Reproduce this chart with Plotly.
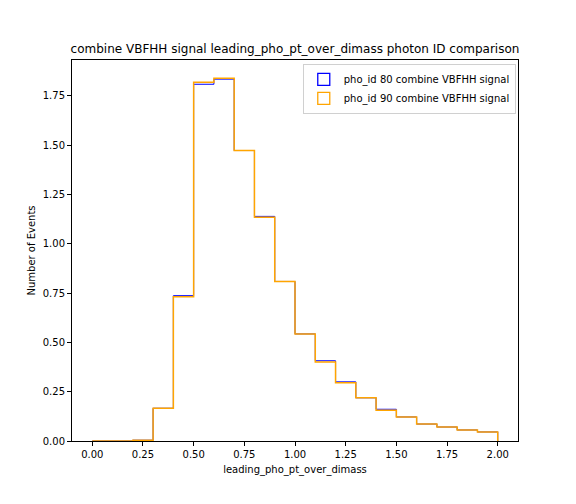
"""Step histogram: photon ID comparison for combine VBFHH signal"""

import plotly.graph_objects as go

bin_edges = [round(0.1 * i, 1) for i in range(21)]

pho_id_80 = [0.0, 0.0, 0.004, 0.166, 0.737, 1.809, 1.835, 1.473, 1.139, 0.809,
             0.543, 0.407, 0.300, 0.219, 0.161, 0.122, 0.086, 0.071, 0.056, 0.046]
pho_id_90 = [0.0, 0.0, 0.004, 0.166, 0.732, 1.819, 1.840, 1.473, 1.134, 0.809,
             0.543, 0.400, 0.295, 0.219, 0.156, 0.122, 0.086, 0.071, 0.056, 0.046]

series = [
    ("pho_id 80 combine VBFHH signal", pho_id_80, "blue", 1.0),
    ("pho_id 90 combine VBFHH signal", pho_id_90, "orange", 1.5),
]


def step_outline(edges, counts):
    """Outline of a matplotlib-style 'step' histogram."""
    xs, ys = [edges[0]], [0.0]
    for i, c in enumerate(counts):
        xs += [edges[i], edges[i + 1]]
        ys += [c, c]
    xs.append(edges[-1])
    ys.append(0.0)
    return xs, ys


fig = go.Figure()
for name, counts, color, width in series:
    xs, ys = step_outline(bin_edges, counts)
    fig.add_trace(
        go.Scatter(
            x=xs,
            y=ys,
            mode="lines",
            name=name,
            showlegend=False,
            line=dict(color=color, width=width),
        )
    )
    # hollow patch for the legend, like matplotlib's step histogram
    fig.add_trace(
        go.Bar(
            x=[None],
            y=[None],
            name=name,
            marker=dict(color="rgba(0,0,0,0)", line=dict(color=color, width=1.3)),
        )
    )

axis_style = dict(
    showline=True,
    linecolor="black",
    linewidth=1,
    mirror=True,
    ticks="outside",
    ticklen=4,
    tickcolor="black",
    showgrid=False,
    zeroline=False,
    tickfont=dict(size=10, color="black"),
    tickformat=".2f",
)

# the page body adds an 8px offset, so margins are shifted by that
fig.update_layout(
    width=576,
    height=504,
    margin=dict(l=64, r=66, t=52, b=71),
    paper_bgcolor="white",
    plot_bgcolor="white",
    font=dict(family="DejaVu Sans", color="black"),
    title=dict(
        text="combine VBFHH signal leading_pho_pt_over_dimass photon ID comparison",
        x=0.5,
        xref="paper",
        xanchor="center",
        y=1 - 41 / 504,
        yref="container",
        yanchor="middle",
        font=dict(size=12, color="black"),
    ),
    xaxis=dict(
        axis_style,
        range=[-0.1, 2.1],
        tick0=0,
        dtick=0.25,
        title=dict(text="leading_pho_pt_over_dimass", font=dict(size=10), standoff=6),
    ),
    yaxis=dict(
        axis_style,
        range=[0, 1.932],
        tick0=0,
        dtick=0.25,
        title=dict(text="Number of Events", font=dict(size=10), standoff=5),
    ),
    legend=dict(
        x=0.995,
        xanchor="right",
        y=0.99,
        yanchor="top",
        bgcolor="rgba(255,255,255,0.8)",
        bordercolor="#d0d0d0",
        borderwidth=1,
        font=dict(size=10),
        tracegroupgap=2,
    ),
    showlegend=True,
)

fig.write_html("out.html")
